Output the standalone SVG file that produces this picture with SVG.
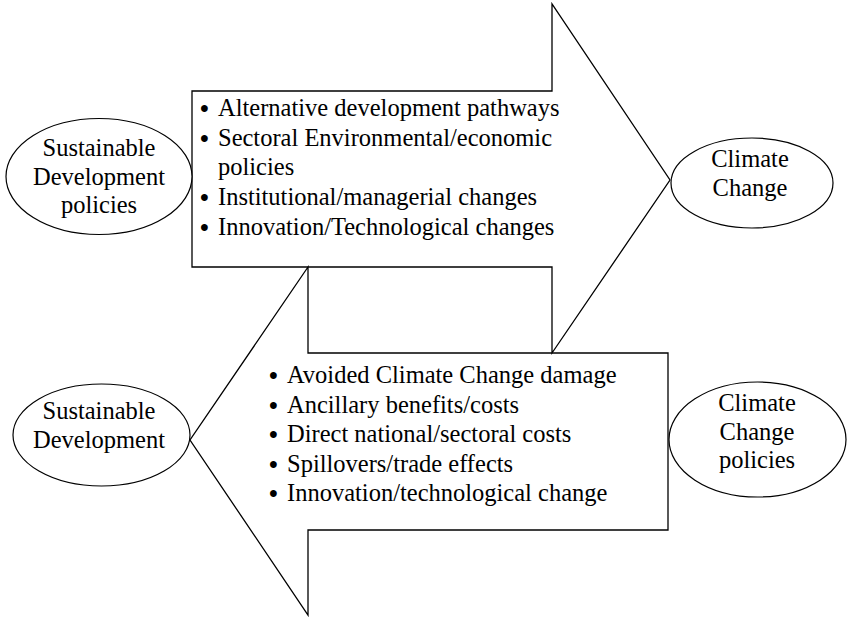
<svg xmlns="http://www.w3.org/2000/svg" width="847" height="618" viewBox="0 0 847 618">
<style>
.shape{fill:none;stroke:#000;stroke-width:1.3;stroke-linejoin:miter}
.el{fill:#fff;stroke:#000;stroke-width:1.2}
text{font-family:"Liberation Serif","Times New Roman",serif;font-size:24.5px;fill:#000}
.b{font-size:25px;font-weight:bold}
.c{text-anchor:middle}
</style>
<rect width="847" height="618" fill="#fff"/>
<g id="connectors">
<polygon id="arrow-top" class="shape" points="192,91 552,91 552,4 670,180 552,353 552,267 192,267"/>
<polygon id="arrow-bottom" class="shape" points="668,353 308,353 308,267 190,440 308,615 308,530 668,530"/>
</g>
<g id="list-top">
<text class="b" x="200" y="117">•</text><text x="218" y="116">Alternative development pathways</text>
<text class="b" x="200" y="146.5">•</text><text x="218" y="145.5">Sectoral Environmental/economic</text>
<text x="218" y="175">policies</text>
<text class="b" x="200" y="206">•</text><text x="218" y="205">Institutional/managerial changes</text>
<text class="b" x="200" y="236">•</text><text x="218" y="235">Innovation/Technological changes</text>
</g>
<g id="list-bottom">
<text class="b" x="269" y="384">•</text><text x="287" y="383">Avoided Climate Change damage</text>
<text class="b" x="269" y="413.5">•</text><text x="287" y="412.5">Ancillary benefits/costs</text>
<text class="b" x="269" y="443">•</text><text x="287" y="442">Direct national/sectoral costs</text>
<text class="b" x="269" y="472.5">•</text><text x="287" y="471.5">Spillovers/trade effects</text>
<text class="b" x="269" y="502">•</text><text x="287" y="501">Innovation/technological change</text>
</g>
<g id="node-sd-policies">
<ellipse class="el" cx="99" cy="176.5" rx="93" ry="58"/>
<text class="c" x="99" y="156">Sustainable</text>
<text class="c" x="99" y="184.5">Development</text>
<text class="c" x="99" y="213">policies</text>
</g>
<g id="node-climate-change">
<ellipse class="el" cx="752" cy="183" rx="81" ry="45"/>
<text class="c" x="750" y="167">Climate</text>
<text class="c" x="750" y="195.5">Change</text>
</g>
<g id="node-sd">
<ellipse class="el" cx="101.5" cy="435" rx="88.5" ry="51"/>
<text class="c" x="99" y="419">Sustainable</text>
<text class="c" x="99" y="448">Development</text>
</g>
<g id="node-cc-policies">
<ellipse class="el" cx="757.5" cy="439.5" rx="88.5" ry="57.5"/>
<text class="c" x="757" y="411">Climate</text>
<text class="c" x="757" y="440">Change</text>
<text class="c" x="757" y="468">policies</text>
</g>
</svg>
